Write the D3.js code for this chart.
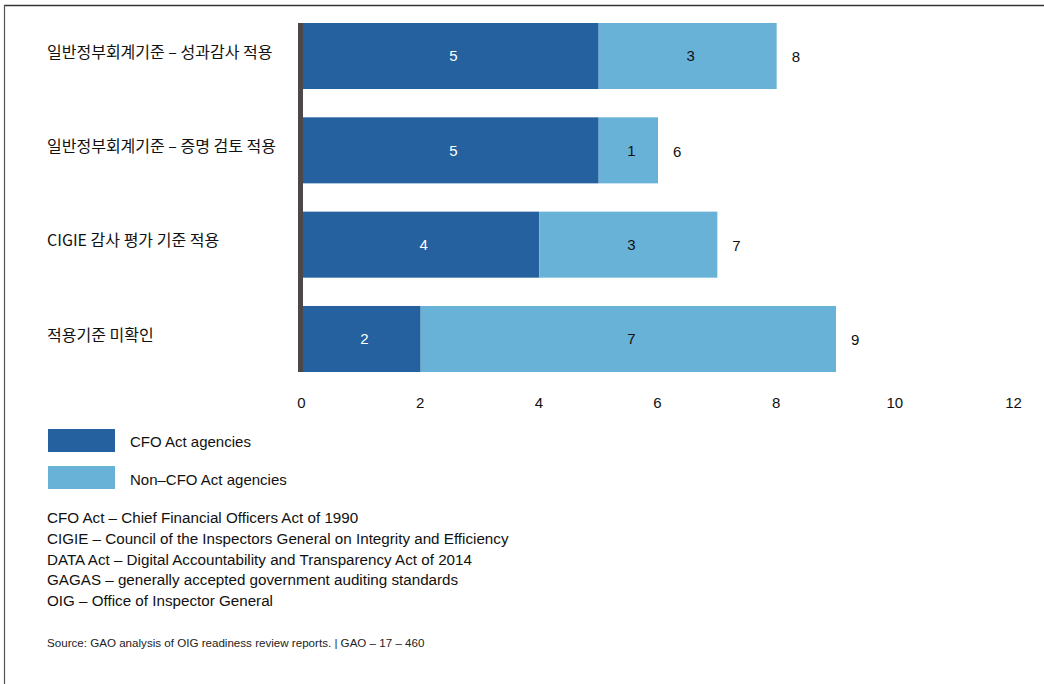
<!DOCTYPE html>
<html>
<head>
<meta charset="utf-8">
<script src="https://cdn.jsdelivr.net/npm/d3@7"></script>
<style>
  html, body { margin: 0; padding: 0; background: #fff; }
  svg { display: block; font-family: "Liberation Sans", "Noto Sans CJK KR", sans-serif; }
</style>
</head>
<body>
<svg id="chart" width="1044" height="684"></svg>
<script>
// Criteria applied in OIG readiness reviews, by agency type
const categories = [
  "일반정부회계기준 – 성과감사 적용",
  "일반정부회계기준 – 증명 검토 적용",
  "CIGIE 감사 평가 기준 적용",
  "적용기준 미확인"
];
const cfoValues = [5, 5, 4, 2];
const nonCfoValues = [3, 1, 3, 7];
const seriesNames = ["CFO Act agencies", "Non–CFO Act agencies"];
const seriesColors = ["#24619e", "#68b2d8"];
const tickValues = [0, 2, 4, 6, 8, 10, 12];
const notes = [
  "CFO Act – Chief Financial Officers Act of 1990",
  "CIGIE – Council of the Inspectors General on Integrity and Efficiency",
  "DATA Act – Digital Accountability and Transparency Act of 2014",
  "GAGAS – generally accepted government auditing standards",
  "OIG – Office of Inspector General"
];
const source = "Source: GAO analysis of OIG readiness review reports.  |  GAO – 17 – 460";

const svg = d3.select("#chart");

// frame: top rule and left rule
svg.append("line").attr("x1", 4).attr("x2", 1044).attr("y1", 5.5).attr("y2", 5.5)
  .attr("stroke", "#333").attr("stroke-width", 1.5);
svg.append("line").attr("x1", 4.5).attr("x2", 4.5).attr("y1", 5).attr("y2", 684)
  .attr("stroke", "#555").attr("stroke-width", 1.2);

const x = d3.scaleLinear().domain([0, 12]).range([302, 1014]);
const y = d3.scaleBand().domain(categories).range([23, 372]).paddingInner(0.3).paddingOuter(0);

const rows = categories.map((c, i) => ({ cat: c, a: cfoValues[i], b: nonCfoValues[i] }));
const stack = d3.stack().keys(["a", "b"])(rows);

const g = svg.append("g");
stack.forEach((layer, li) => {
  g.selectAll(null).data(layer).join("rect")
    .attr("x", d => x(d[0]))
    .attr("y", d => y(d.data.cat))
    .attr("width", d => x(d[1]) - x(d[0]))
    .attr("height", y.bandwidth())
    .attr("fill", seriesColors[li]);
  g.selectAll(null).data(layer).join("text")
    .attr("x", d => (x(d[0]) + x(d[1])) / 2 + 3)
    .attr("y", d => y(d.data.cat) + y.bandwidth() / 2)
    .attr("dy", "0.36em")
    .attr("text-anchor", "middle")
    .attr("font-size", 15)
    .attr("fill", li === 0 ? "#fff" : "#111")
    .text(d => d[1] - d[0]);
});

// totals
g.selectAll(null).data(rows).join("text")
  .attr("x", d => x(d.a + d.b) + 15)
  .attr("y", d => y(d.cat) + y.bandwidth() / 2 + 1)
  .attr("dy", "0.36em")
  .attr("font-size", 15)
  .attr("fill", "#111")
  .text(d => d.a + d.b);

// category labels
g.selectAll(null).data(categories).join("text")
  .attr("x", 47)
  .attr("y", d => y(d) + y.bandwidth() / 2 - 4)
  .attr("dy", "0.36em")
  .attr("font-size", 16)
  .attr("font-family", "'Noto Sans CJK KR', 'Liberation Sans', sans-serif")
  .attr("fill", "#111")
  .text(d => d);

// vertical axis rule
svg.append("rect")
  .attr("x", 298).attr("width", 5)
  .attr("y", y(categories[0])).attr("height", y(categories[3]) + y.bandwidth() - y(categories[0]))
  .attr("fill", "#4d4848");

// x axis tick labels
const xAxis = d3.axisBottom(x).tickValues(tickValues).tickSize(0).tickPadding(0);
const ax = svg.append("g").attr("transform", "translate(-1,397)").call(xAxis);
ax.select(".domain").remove();
ax.selectAll("text").attr("font-size", 15).attr("fill", "#111")
  .attr("font-family", "'Liberation Sans', sans-serif");

// legend
const leg = svg.append("g");
seriesNames.forEach((n, i) => {
  leg.append("rect").attr("x", 48).attr("y", 429 + i * 37).attr("width", 67).attr("height", 23)
    .attr("fill", seriesColors[i]);
  leg.append("text").attr("x", 130).attr("y", 442 + i * 37.5).attr("dy", "0.36em")
    .attr("font-size", 15).attr("fill", "#111").text(n);
});

// abbreviations
svg.append("g").selectAll("text").data(notes).join("text")
  .attr("x", 47).attr("y", (d, i) => 518 + i * 20.6).attr("dy", "0.36em")
  .attr("font-size", 15.2).attr("fill", "#111").text(d => d);

svg.append("text").attr("x", 47).attr("y", 643).attr("dy", "0.36em")
  .attr("font-size", 11.6).attr("fill", "#222").text(source);
</script>
</body>
</html>
